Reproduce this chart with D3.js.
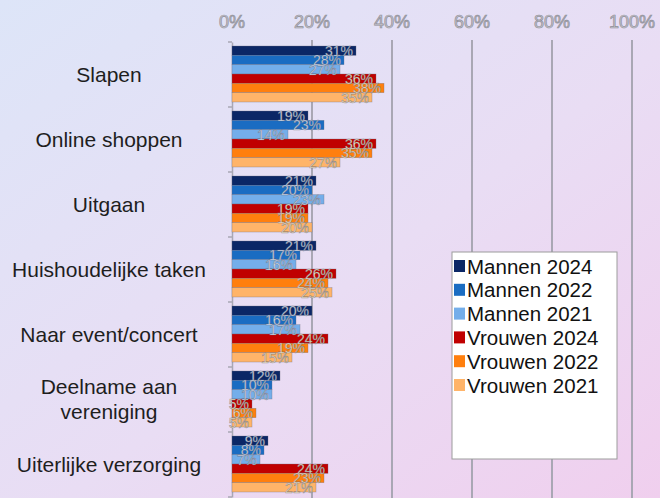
<!DOCTYPE html>
<html>
<head>
<meta charset="utf-8">
<script src="https://cdn.jsdelivr.net/npm/d3@7"></script>
<style>
  body { margin: 0; }
  svg { display: block; font-family: "Liberation Sans", Arial, sans-serif; }
</style>
</head>
<body>
<div id="chart"></div>
<script>
// categories (top to bottom)
const categories = ['Slapen', 'Online shoppen', 'Uitgaan', 'Huishoudelijke taken',
    'Naar event/concert', 'Deelname aan vereniging', 'Uiterlijke verzorging'];
const seriesNames = ['Mannen 2024', 'Mannen 2022', 'Mannen 2021', 'Vrouwen 2024', 'Vrouwen 2022', 'Vrouwen 2021'];
const seriesColors = ['#0b2766', '#1a6cc2', '#74aeea', '#c00000', '#ff7f0e', '#ffb469'];

// values in %, per series, same order as categories
const mannen2024 = [31, 19, 21, 21, 20, 12, 9];
const mannen2022 = [28, 23, 20, 17, 16, 10, 8];
const mannen2021 = [27, 14, 23, 16, 17, 10, 7];
const vrouwen2024 = [36, 36, 19, 26, 24, 5, 24];
const vrouwen2022 = [38, 35, 19, 24, 19, 6, 23];
const vrouwen2021 = [35, 27, 20, 25, 15, 5, 21];
const tickValues = [0, 20, 40, 60, 80, 100];

const series = [mannen2024, mannen2022, mannen2021, vrouwen2024, vrouwen2022, vrouwen2021];

const width = 660, height = 498;
const margin = { top: 42, left: 232, right: 28, bottom: 1 };

const svg = d3.select('#chart').append('svg')
    .attr('width', width)
    .attr('height', height);

// achtergrond
const defs = svg.append('defs');
const grad = defs.append('linearGradient').attr('id', 'bg')
    .attr('x1', '0%').attr('y1', '0%').attr('x2', '100%').attr('y2', '100%');
grad.append('stop').attr('offset', '0%').attr('stop-color', '#dde5f8');
grad.append('stop').attr('offset', '55%').attr('stop-color', '#e9ddf4');
grad.append('stop').attr('offset', '100%').attr('stop-color', '#f0cfee');
svg.append('rect').attr('width', width).attr('height', height).attr('fill', 'url(#bg)');

// scales
const x = d3.scaleLinear().domain([0, 100]).range([margin.left, width - margin.right]);
const y = d3.scaleBand().domain(categories).range([margin.top, margin.top + 65 * categories.length]);
const yInner = d3.scaleBand().domain(d3.range(series.length)).range([4, 60]);

// gridlines
svg.append('g')
    .selectAll('line')
    .data(tickValues.slice(1))
    .enter()
    .append('line')
    .attr('x1', d => x(d)).attr('x2', d => x(d))
    .attr('y1', margin.top - 2).attr('y2', height)
    .attr('stroke', '#a9a7b4')
    .attr('stroke-width', 2);

// top axis labels
svg.append('g')
    .selectAll('text')
    .data(tickValues)
    .enter()
    .append('text')
    .attr('x', d => x(d))
    .attr('y', 28)
    .attr('text-anchor', 'middle')
    .attr('font-size', 18)
    .attr('fill', '#c4c4cc')
    .attr('stroke', '#8f8f99')
    .attr('stroke-width', 0.7)
    .text(d => d + '%');

// left axis with small ticks
const yAxis = svg.append('g')
    .attr('transform', 'translate(' + margin.left + ',0)')
    .call(d3.axisLeft(y).tickValues([]).tickSizeOuter(0));
yAxis.select('.domain').attr('stroke', '#a9a7b4').attr('stroke-width', 1.5);
yAxis.selectAll('.edge')
    .data(d3.range(categories.length + 1))
    .enter()
    .append('line')
    .attr('x1', -4).attr('x2', 0)
    .attr('y1', i => margin.top + 65 * i).attr('y2', i => margin.top + 65 * i)
    .attr('stroke', '#a9a7b4')
    .attr('stroke-width', 1.5);

// bars
const groups = svg.append('g')
    .selectAll('g')
    .data(categories)
    .enter()
    .append('g')
    .attr('transform', d => 'translate(0,' + y(d) + ')');

groups.selectAll('rect')
    .data((c, ci) => series.map((s, si) => ({ si: si, v: s[ci] })))
    .enter()
    .append('rect')
    .attr('x', x(0))
    .attr('y', d => yInner(d.si))
    .attr('width', d => x(d.v) - x(0))
    .attr('height', yInner.bandwidth())
    .attr('fill', d => seriesColors[d.si])
    .attr('stroke', 'rgba(110,110,130,0.55)')
    .attr('stroke-width', 0.6);

// value labels
groups.selectAll('text')
    .data((c, ci) => series.map((s, si) => ({ si: si, v: s[ci] })))
    .enter()
    .append('text')
    .attr('x', d => x(d.v) - 3)
    .attr('y', d => yInner(d.si) + yInner.bandwidth() + 0.5)
    .attr('text-anchor', 'end')
    .attr('font-size', 14)
    .attr('fill', d => d.si < 3 ? '#dce9fa' : '#fff0d2')
    .attr('stroke', 'rgba(90,90,110,0.6)')
    .attr('stroke-width', 0.6)
    .text(d => d.v + '%');

// category labels
const catLabels = svg.append('g')
    .selectAll('text')
    .data(categories)
    .enter()
    .append('text')
    .attr('x', 109)
    .attr('y', d => y(d) + y.bandwidth() / 2 + 7)
    .attr('text-anchor', 'middle')
    .attr('font-size', 21)
    .attr('fill', '#1e1e1e');

catLabels.each(function (d) {
    const el = d3.select(this);
    if (d === 'Deelname aan vereniging') {
        el.append('tspan').attr('x', 109).attr('dy', -12.5).text('Deelname aan');
        el.append('tspan').attr('x', 109).attr('dy', 25).text('vereniging');
    } else {
        el.text(d);
    }
});

// legend
const legend = svg.append('g').attr('transform', 'translate(452,252)');
legend.append('rect')
    .attr('width', 165).attr('height', 207)
    .attr('fill', '#ffffff')
    .attr('stroke', '#9c9c9c');
const items = legend.selectAll('g')
    .data(seriesNames)
    .enter()
    .append('g')
    .attr('transform', (d, i) => 'translate(0,' + (14 + i * 23.8) + ')');
items.append('rect')
    .attr('x', 2).attr('y', -6)
    .attr('width', 11).attr('height', 12)
    .attr('fill', (d, i) => seriesColors[i]);
items.append('text')
    .attr('x', 15).attr('y', 7.5)
    .attr('font-size', 20.5)
    .attr('fill', '#111')
    .text(d => d);
</script>
</body>
</html>
